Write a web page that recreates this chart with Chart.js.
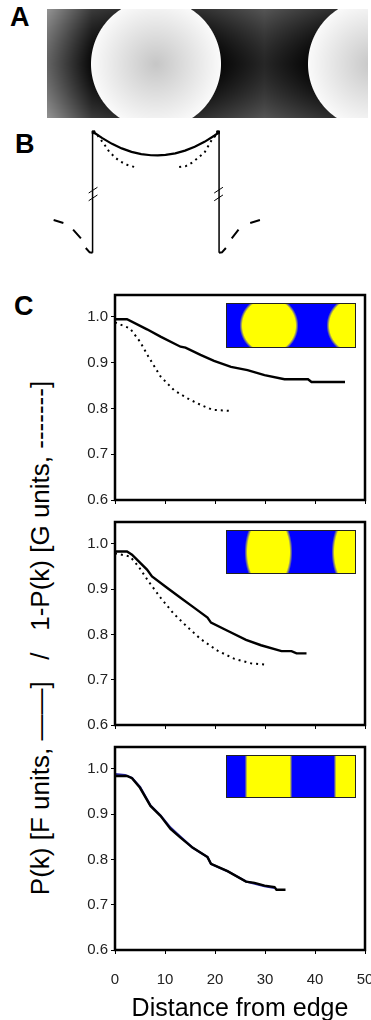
<!DOCTYPE html>
<html>
<head>
<meta charset="utf-8">
<script src="https://cdn.jsdelivr.net/npm/chart.js@4.4.1/dist/chart.umd.min.js"></script>
<style>
  body { margin: 0; background: #fff; width: 371px; height: 1020px; overflow: hidden; position: relative;
         font-family: "Liberation Sans", Arial, sans-serif; }
  canvas { position: absolute; left: 0; }
  .lbl { position: absolute; font-weight: bold; font-size: 27px; line-height: 1; }
  #ytitle { position: absolute; left: 40px; top: 638px; white-space: pre; font-size: 26px; line-height: 1;
            transform: translate(-50%, -50%) rotate(-90deg); color: #000; }
</style>
</head>
<body>
<div class="lbl" style="left:10px;top:4px">A</div>
<div class="lbl" style="left:15px;top:131px">B</div>
<div class="lbl" style="left:14px;top:293px">C</div>
<div id="ytitle">P(k) [F units, ——]   /   1-P(k) [G units, -------]</div>

<canvas id="ab" width="371" height="280" style="top:0"></canvas>
<canvas id="c1" width="371" height="225" style="top:285px"></canvas>
<canvas id="c2" width="371" height="225" style="top:510px"></canvas>
<canvas id="c3" width="371" height="285" style="top:735px"></canvas>

<script>
// ---- data: panel C ----
const xTicks = [0, 10, 20, 30, 40, 50];
const yTicks = [0.6, 0.7, 0.8, 0.9, 1.0];

// top (circular islands)
const c1SolidX = [0, 2.4, 6.4, 9.1, 13.1, 14.1, 17.1, 19.8, 23.2, 26.5, 29.9, 33.9, 38.6, 39.3, 46.0];
const c1SolidY = [0.995, 0.995, 0.973, 0.957, 0.935, 0.933, 0.917, 0.904, 0.891, 0.884, 0.873, 0.864, 0.864, 0.858, 0.858];
const c1DotX = [0, 3.0, 5.0, 6.7, 9.1, 11.8, 14.5, 17.1, 19.5, 22.8];
const c1DotY = [0.988, 0.975, 0.946, 0.913, 0.870, 0.840, 0.822, 0.808, 0.797, 0.795];

// middle (elliptical islands)
const c2SolidX = [0, 2.4, 3.4, 6.4, 7.4, 10.4, 13.1, 15.8, 18.5, 19.2, 22.5, 26.2, 29.2, 33.3, 35.3, 36.3, 38.3];
const c2SolidY = [0.983, 0.983, 0.976, 0.943, 0.928, 0.903, 0.881, 0.859, 0.837, 0.826, 0.808, 0.788, 0.776, 0.763, 0.763, 0.758, 0.758];
const c2DotX = [0, 3.0, 4.7, 6.7, 9.1, 11.8, 14.5, 17.1, 20.5, 23.9, 27.2, 30.6];
const c2DotY = [0.979, 0.972, 0.950, 0.917, 0.881, 0.845, 0.816, 0.790, 0.764, 0.746, 0.736, 0.733];

// bottom (stripes)
const c3SolidX = [0, 2.4, 3.4, 5.0, 7.1, 9.1, 11.1, 13.1, 15.5, 18.5, 19.2, 22.5, 26.2, 27.9, 29.9, 31.9, 32.3, 34.1];
const c3SolidY = [0.984, 0.984, 0.979, 0.958, 0.918, 0.896, 0.867, 0.848, 0.826, 0.805, 0.790, 0.774, 0.751, 0.748, 0.742, 0.739, 0.733, 0.733];
const c3BlueX = [0, 2.0, 3.4, 5.0, 7.1, 9.1, 11.1, 13.1, 15.5, 18.5, 19.2, 22.5, 26.2, 29.9, 31.9];
const c3BlueY = [0.988, 0.986, 0.980, 0.960, 0.919, 0.897, 0.870, 0.850, 0.826, 0.805, 0.790, 0.774, 0.751, 0.741, 0.737];

// ---- data: panel B schematic profile (schematic units) ----
const bSolidX = [91, 100, 110, 120, 130, 140, 150, 157, 165, 175, 185, 195, 205, 215, 220];
const bSolidY = [132, 138, 144, 148.7, 152.3, 154.6, 155.8, 156, 155.5, 153.8, 151, 147, 141.9, 135.6, 132];
const bDotLX = [95, 98, 103, 107, 113, 118, 126, 133];
const bDotLY = [135, 139, 146, 152, 158, 162, 166, 168];
const bDotRX = [179, 186, 193, 199, 205, 209, 213, 217];
const bDotRY = [168, 167, 163, 158, 153, 146, 139, 135];
const bOuterLX = [50, 60, 65, 70, 78, 80, 83, 87, 90];
const bOuterLY = [223, 226, null, 233, 242, null, 252, 256.5, 257];
const bOuterRX = [262, 252, 246, 240, 233, 230, 227, 223, 220];
const bOuterRY = [223, 226, null, 233, 242, null, 252, 256.5, 257];
const bCornerX = [91, 219];
const bCornerY = [132, 132];

const FONT = '"Liberation Sans", Arial, sans-serif';
const pts = (xs, ys) => xs.map((x, i) => ({ x: x, y: ys[i] }));

// ---- pixel patterns ----
function makePattern(w, h, fn) {
  const c = document.createElement('canvas');
  c.width = w; c.height = h;
  const g = c.getContext('2d');
  const img = g.createImageData(w, h);
  for (let y = 0; y < h; y++) {
    for (let x = 0; x < w; x++) {
      const rgb = fn(x + 0.5, y + 0.5);
      const k = (y * w + x) * 4;
      img.data[k] = rgb[0]; img.data[k + 1] = rgb[1]; img.data[k + 2] = rgb[2]; img.data[k + 3] = 255;
    }
  }
  g.putImageData(img, 0, 0);
  return c;
}
const clamp = (v, a, b) => Math.max(a, Math.min(b, v));
function by(f) { // blue -> yellow
  return [255 * f, 255 * f, 255 * (1 - f)];
}

const grayImg = makePattern(321, 109, function (u, v) {
  let sd = 1e9;
  [109, 326].forEach(function (cx) { sd = Math.min(sd, Math.hypot(u - cx, v - 55) - 65); });
  const f = clamp(0.5 - sd, 0, 1);
  const inside = 250 - 0.8 * Math.max(0, -sd);
  const outside = 8 + 0.7 * Math.max(0, sd) + 38 * Math.pow(Math.abs(v - 55) / 55, 1.5) +
                  62 * Math.max(0, 1 - u / 45);
  const val = f * inside + (1 - f) * outside;
  return [val, val, val];
});

const inset1 = makePattern(130, 45, function (u, v) {
  let sd = 1e9;
  [43, 130].forEach(function (cx) { sd = Math.min(sd, Math.hypot(u - cx, v - 22.5) - 28); });
  return by(clamp(0.5 - sd / 3, 0, 1));
});
const inset2 = makePattern(130, 44, function (u, v) {
  let sd = 1e9;
  [42.5, 129.5].forEach(function (cx) {
    const r = Math.sqrt(Math.pow((u - cx) / 22.5, 2) + Math.pow((v - 22) / 38.5, 2));
    sd = Math.min(sd, (r - 1) * 22.5);
  });
  return by(clamp(0.5 - sd / 3, 0, 1));
});
const inset3 = makePattern(130, 43, function (u, v) {
  let sd = 1e9;
  [[20, 65], [109, 150]].forEach(function (b) {
    sd = Math.min(sd, Math.max(b[0] - u, u - b[1]));
  });
  return by(clamp(0.5 - sd / 2.5, 0, 1));
});

// ---- panels A + B ----
new Chart(document.getElementById('ab'), {
  type: 'scatter',
  data: {
    datasets: [
      { data: pts(bSolidX, bSolidY), borderWidth: 2.2 },
      { data: pts(bDotLX, bDotLY), borderWidth: 2, borderDash: [2, 4] },
      { data: pts(bDotRX, bDotRY), borderWidth: 2, borderDash: [2, 4] },
      { data: pts([90, 90], [131, 257]), borderWidth: 1.5 },
      { data: pts([220, 220], [131, 257]), borderWidth: 1.5 },
      { data: pts([86, 95], [195, 189]), borderWidth: 1 },
      { data: pts([86, 95], [203, 197]), borderWidth: 1 },
      { data: pts([215, 224], [195, 189]), borderWidth: 1 },
      { data: pts([215, 224], [203, 197]), borderWidth: 1 },
      { data: pts(bOuterLX, bOuterLY), borderWidth: 2 },
      { data: pts(bOuterRX, bOuterRY), borderWidth: 2 },
      { data: pts(bCornerX, bCornerY), showLine: false, pointRadius: 2, pointStyle: 'rect', backgroundColor: '#000' }
    ].map(function (d) {
      return Object.assign({ showLine: true, pointRadius: 0, borderColor: '#000', tension: 0, spanGaps: false }, d);
    })
  },
  options: {
    responsive: false, animation: false,
    layout: { padding: 0 },
    plugins: { legend: { display: false }, tooltip: { enabled: false } },
    scales: {
      x: { type: 'linear', min: 0, max: 371, display: false },
      y: { type: 'linear', min: 0, max: 280, reverse: true, display: false }
    }
  },
  plugins: [{
    id: 'imageA',
    beforeDatasetsDraw: function (chart) {
      chart.ctx.drawImage(grayImg, 47, 9);
    }
  }]
});

// ---- panel C charts ----
function panel(id, padTop, xHeight, showX, insetImg, datasets) {
  return new Chart(document.getElementById(id), {
    type: 'scatter',
    data: { datasets: datasets },
    options: {
      responsive: false, animation: false,
      layout: { padding: { top: padTop, right: 6, left: 0, bottom: 0 } },
      plugins: { legend: { display: false }, tooltip: { enabled: false } },
      scales: {
        x: {
          type: 'linear', min: 0, max: 50,
          afterBuildTicks: function (s) { s.ticks = xTicks.map(function (v) { return { value: v }; }); },
          afterFit: function (s) { s.height = xHeight; s.paddingLeft = 0; s.paddingRight = 0; },
          border: { display: false },
          grid: { drawOnChartArea: false, tickLength: 4, color: '#000', lineWidth: 1 },
          ticks: { display: showX, padding: 17, color: '#222', font: { family: FONT, size: 15 } },
          title: {
            display: showX, text: 'Distance from edge', color: '#000', padding: { top: 0, bottom: -2 },
            font: { family: FONT, size: 25, lineHeight: 1 }
          }
        },
        y: {
          type: 'linear', min: 0.6, max: 1.048,
          afterBuildTicks: function (s) { s.ticks = yTicks.map(function (v) { return { value: v }; }); },
          afterFit: function (s) { s.width = 115; s.paddingTop = 0; s.paddingBottom = 0; },
          border: { display: false },
          grid: { drawOnChartArea: false, tickLength: 4, color: '#000', lineWidth: 1 },
          ticks: {
            padding: 3, color: '#222', font: { family: FONT, size: 15 },
            callback: function (v) { return Number(v).toFixed(1); }
          }
        }
      }
    },
    plugins: [{
      id: 'frameInset',
      afterDraw: function (chart) {
        const ctx = chart.ctx, a = chart.chartArea;
        ctx.save();
        ctx.strokeStyle = '#000';
        ctx.lineWidth = 2.5;
        ctx.strokeRect(a.left, a.top, a.right - a.left, a.bottom - a.top);
        const ix = a.right - 139, iy = a.top + 8;
        ctx.drawImage(insetImg, ix, iy);
        ctx.lineWidth = 1;
        ctx.strokeStyle = '#222';
        ctx.strokeRect(ix + 0.5, iy + 0.5, insetImg.width - 1, insetImg.height - 1);
        ctx.restore();
      }
    }]
  });
}

const solid = { showLine: true, pointRadius: 0, borderColor: '#000', borderWidth: 2.4, tension: 0 };
const dotted = { showLine: true, pointRadius: 0, borderColor: '#000', borderWidth: 2, borderDash: [2, 4], tension: 0 };

panel('c1', 10, 10, false, inset1, [
  Object.assign({ data: pts(c1SolidX, c1SolidY) }, solid),
  Object.assign({ data: pts(c1DotX, c1DotY) }, dotted)
]);
panel('c2', 12, 10, false, inset2, [
  Object.assign({ data: pts(c2SolidX, c2SolidY) }, solid),
  Object.assign({ data: pts(c2DotX, c2DotY) }, dotted)
]);
// black line first so it is drawn on top of the blue one
panel('c3', 12, 70, true, inset3, [
  Object.assign({ data: pts(c3SolidX, c3SolidY) }, solid),
  { data: pts(c3BlueX, c3BlueY), showLine: true, pointRadius: 0, borderColor: '#2a2aa8', borderWidth: 2.2, tension: 0 }
]);
</script>
</body>
</html>
